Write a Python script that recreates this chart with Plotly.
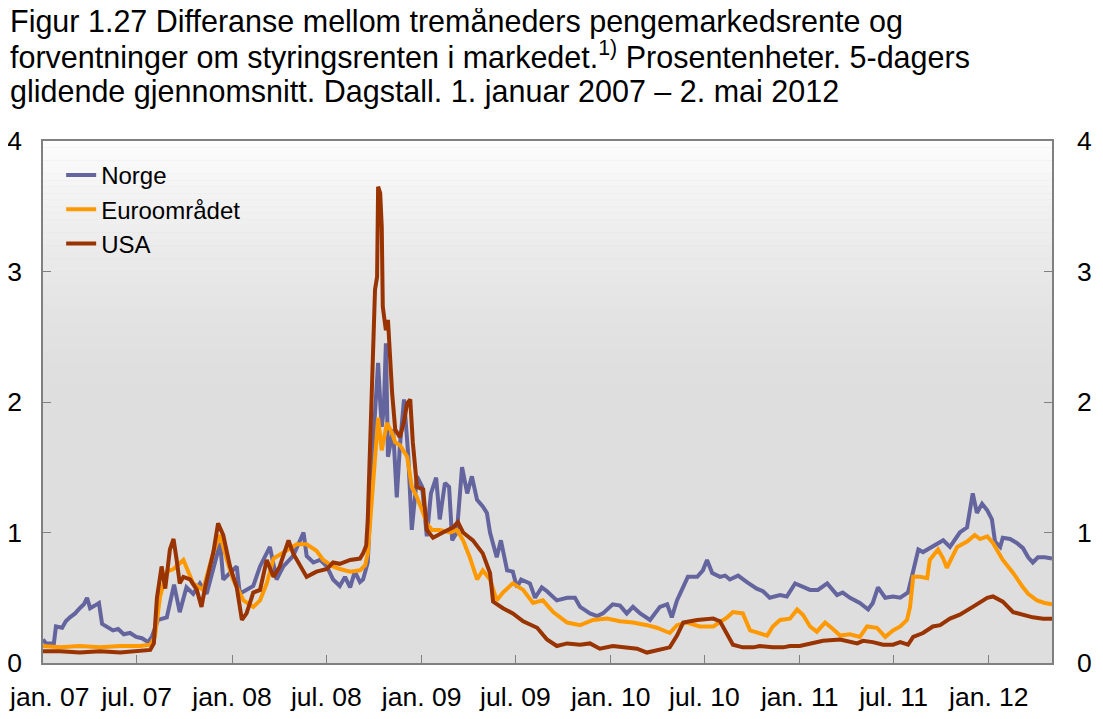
import pandas as pd
import plotly.graph_objects as go

START = pd.Timestamp("2007-01-01")

# Days since 1 Jan 2007 and values (percentage points)
norge_days = [0, 6, 21, 25, 37, 44, 52, 62, 71, 79, 85, 91, 100, 108, 114, 125, 135, 145, 156, 168,
              180, 191, 203, 210, 216, 222, 239, 245, 253, 264, 277, 290, 303, 316, 329, 342, 348, 361,
              374, 380, 393, 406, 419, 438, 451, 464, 483, 503, 509, 522, 535, 548, 560, 573, 583, 593,
              602, 612, 618, 627, 637, 643, 647, 651, 654, 658, 662, 666, 676, 683, 689, 697, 705, 712,
              722, 732, 741, 749, 759, 766, 776, 784, 790, 799, 809, 819, 828, 838, 849, 857, 863, 876,
              884, 896, 907, 915, 923, 940, 950, 963, 973, 992, 1012, 1027, 1037, 1056, 1070, 1081, 1100,
              1114, 1127, 1139, 1153, 1172, 1191, 1205, 1214, 1224, 1236, 1245, 1263, 1274, 1282, 1292,
              1307, 1317, 1326, 1342, 1359, 1378, 1390, 1403, 1423, 1436, 1452, 1467, 1481, 1496, 1514,
              1533, 1544, 1558, 1577, 1593, 1602, 1612, 1626, 1641, 1655, 1670, 1680, 1690, 1699, 1712,
              1726, 1738, 1751, 1770, 1784, 1795, 1803, 1813, 1823, 1832, 1838, 1848, 1853, 1867, 1880,
              1892, 1902, 1911, 1921, 1934, 1948]
norge_vals = [0.18, 0.15, 0.15, 0.28, 0.27, 0.32, 0.35, 0.38, 0.42, 0.45, 0.50, 0.42, 0.44, 0.46, 0.30,
              0.27, 0.25, 0.26, 0.22, 0.23, 0.20, 0.19, 0.16, 0.20, 0.26, 0.33, 0.35, 0.45, 0.60, 0.39,
              0.58, 0.53, 0.61, 0.53, 0.74, 0.92, 0.64, 0.69, 0.74, 0.53, 0.56, 0.59, 0.74, 0.89, 0.64,
              0.74, 0.82, 1.00, 0.82, 0.77, 0.79, 0.74, 0.64, 0.59, 0.66, 0.58, 0.70, 0.62, 0.64, 0.77,
              1.66, 2.10, 2.30, 2.00, 1.81, 1.95, 2.45, 1.58, 1.79, 1.27, 1.66, 2.02, 1.60, 1.02, 1.43,
              1.35, 0.97, 1.30, 1.42, 1.10, 1.38, 1.35, 0.94, 1.00, 1.50, 1.30, 1.43, 1.25, 1.20, 1.15,
              1.00, 0.81, 0.94, 0.71, 0.70, 0.58, 0.64, 0.61, 0.50, 0.58, 0.55, 0.48, 0.50, 0.50, 0.43,
              0.38, 0.36, 0.38, 0.45, 0.44, 0.38, 0.43, 0.38, 0.33, 0.43, 0.45, 0.35, 0.48, 0.58, 0.66,
              0.66, 0.71, 0.79, 0.69, 0.66, 0.67, 0.64, 0.67, 0.62, 0.57, 0.55, 0.50, 0.52, 0.51, 0.61,
              0.58, 0.56, 0.56, 0.61, 0.52, 0.54, 0.50, 0.46, 0.41, 0.46, 0.58, 0.50, 0.51, 0.50, 0.54,
              0.69, 0.87, 0.85, 0.88, 0.92, 0.94, 0.89, 1.00, 1.04, 1.30, 1.15, 1.22, 1.17, 1.10, 0.93,
              0.89, 0.96, 0.95, 0.92, 0.88, 0.81, 0.77, 0.81, 0.81, 0.80]

euro_days = [0, 33, 71, 110, 149, 187, 207, 216, 226, 239, 252, 271, 290, 309, 329, 342, 355, 367, 387,
             406, 419, 432, 445, 470, 490, 509, 528, 541, 560, 573, 593, 612, 622, 627, 635, 641, 647,
             654, 664, 674, 680, 689, 703, 712, 722, 732, 741, 751, 766, 786, 799, 811, 824, 838, 849,
             863, 876, 888, 907, 927, 946, 965, 985, 1012, 1037, 1062, 1089, 1114, 1139, 1166, 1185,
             1210, 1224, 1243, 1268, 1294, 1321, 1332, 1351, 1365, 1384, 1398, 1409, 1423, 1442, 1456,
             1467, 1481, 1494, 1510, 1525, 1539, 1558, 1577, 1591, 1610, 1626, 1641, 1655, 1668, 1674,
             1680, 1693, 1707, 1712, 1728, 1738, 1745, 1765, 1784, 1799, 1809, 1823, 1834, 1853, 1873,
             1892, 1902, 1919, 1934, 1948]
euro_vals = [0.13, 0.12, 0.13, 0.12, 0.13, 0.13, 0.14, 0.20, 0.51, 0.70, 0.72, 0.79, 0.61, 0.56, 0.85,
             0.98, 0.79, 0.64, 0.48, 0.43, 0.48, 0.61, 0.80, 0.86, 0.91, 0.91, 0.86, 0.79, 0.74, 0.72,
             0.70, 0.71, 0.75, 0.84, 1.27, 1.66, 1.88, 1.63, 1.84, 1.76, 1.69, 1.67, 1.58, 1.35, 1.27,
             1.17, 1.07, 1.02, 1.02, 1.00, 1.02, 0.94, 0.81, 0.64, 0.71, 0.64, 0.48, 0.54, 0.61, 0.56,
             0.46, 0.48, 0.39, 0.31, 0.29, 0.33, 0.34, 0.32, 0.31, 0.29, 0.27, 0.23, 0.29, 0.31, 0.28,
             0.28, 0.35, 0.39, 0.38, 0.25, 0.23, 0.21, 0.28, 0.33, 0.34, 0.41, 0.37, 0.28, 0.24, 0.31,
             0.26, 0.21, 0.22, 0.20, 0.28, 0.27, 0.20, 0.25, 0.28, 0.33, 0.43, 0.66, 0.66, 0.65, 0.79,
             0.87, 0.80, 0.73, 0.89, 0.93, 0.98, 0.95, 0.97, 0.92, 0.79, 0.69, 0.58, 0.53, 0.48, 0.46,
             0.45]

usa_days = [0, 33, 71, 110, 149, 187, 207, 214, 220, 229, 236, 245, 252, 258, 264, 271, 284, 297, 306,
            313, 329, 338, 348, 361, 374, 384, 393, 406, 419, 432, 445, 457, 474, 483, 503, 509, 528,
            548, 560, 573, 593, 612, 618, 624, 627, 631, 637, 641, 645, 647, 651, 654, 656, 662, 666,
            674, 680, 689, 697, 703, 709, 714, 722, 734, 741, 753, 772, 792, 801, 811, 830, 849, 863,
            869, 888, 907, 927, 954, 973, 992, 1012, 1037, 1056, 1075, 1100, 1127, 1147, 1166, 1191,
            1210, 1224, 1236, 1263, 1294, 1307, 1321, 1332, 1351, 1371, 1384, 1409, 1429, 1442, 1461,
            1481, 1506, 1539, 1572, 1583, 1602, 1622, 1641, 1655, 1670, 1680, 1699, 1718, 1732, 1751,
            1770, 1795, 1823, 1834, 1853, 1873, 1892, 1911, 1931, 1948]
usa_vals = [0.09, 0.09, 0.08, 0.09, 0.08, 0.09, 0.10, 0.15, 0.50, 0.74, 0.57, 0.87, 0.95, 0.79, 0.61,
            0.66, 0.64, 0.56, 0.43, 0.58, 0.85, 1.07, 0.98, 0.74, 0.58, 0.33, 0.38, 0.54, 0.56, 0.79,
            0.66, 0.74, 0.94, 0.84, 0.71, 0.66, 0.70, 0.72, 0.77, 0.76, 0.79, 0.80, 0.84, 0.90, 1.10,
            1.63, 2.45, 2.86, 2.96, 3.65, 3.60, 3.34, 2.73, 2.55, 2.63, 2.07, 1.79, 1.73, 1.85, 1.99,
            2.02, 1.69, 1.35, 1.33, 1.02, 0.96, 1.00, 1.04, 1.08, 1.00, 0.94, 0.84, 0.69, 0.47, 0.42,
            0.38, 0.32, 0.27, 0.18, 0.13, 0.15, 0.14, 0.15, 0.11, 0.13, 0.12, 0.11, 0.08, 0.10, 0.12,
            0.21, 0.31, 0.33, 0.34, 0.32, 0.21, 0.14, 0.12, 0.12, 0.13, 0.12, 0.12, 0.13, 0.13, 0.15,
            0.17, 0.18, 0.15, 0.17, 0.16, 0.14, 0.14, 0.16, 0.14, 0.20, 0.23, 0.28, 0.29, 0.34, 0.37,
            0.43, 0.50, 0.51, 0.47, 0.39, 0.37, 0.35, 0.34, 0.34]

series_names = ["Norge", "Euroområdet", "USA"]
series_colors = ["#64649e", "#ff9900", "#993300"]

tick_dates = ["2007-01-01", "2007-07-01", "2008-01-01", "2008-07-01", "2009-01-01", "2009-07-01",
              "2010-01-01", "2010-07-01", "2011-01-01", "2011-07-01", "2012-01-01"]
tick_labels = ["jan. 07", "jul. 07", "jan. 08", "jul. 08", "jan. 09", "jul. 09",
               "jan. 10", "jul. 10", "jan. 11", "jul. 11", "jan. 12"]
y_ticks = [0, 1, 2, 3, 4]

title_lines = ["Figur 1.27 Differanse mellom tremåneders pengemarkedsrente og",
               "forventninger om styringsrenten i markedet.<sup>1)</sup> Prosentenheter. 5-dagers",
               "glidende gjennomsnitt. Dagstall. 1. januar 2007 – 2. mai 2012"]


def to_dates(days):
    return [START + pd.Timedelta(days=d) for d in days]


FONT = "Liberation Sans, Arial, sans-serif"
PLOT_W, PLOT_H = 1009.0, 522.0
fig = go.Figure()
for name, color, days, vals in zip(series_names, series_colors,
                                   [norge_days, euro_days, usa_days],
                                   [norge_vals, euro_vals, usa_vals]):
    fig.add_trace(go.Scatter(x=to_dates(days), y=vals, mode="lines", name=name,
                             line=dict(color=color, width=4)))

# invisible trace to carry the right-hand axis
fig.add_trace(go.Scatter(x=to_dates(usa_days[:1]), y=[0], yaxis="y2", mode="lines",
                         line=dict(width=0), showlegend=False, hoverinfo="skip"))

# vertical gradient of the plot background
n = 40
top_c, bot_c = 253, 222
for i in range(n):
    y0 = 0.5 + 0.5 * i / n
    y1 = 0.5 + 0.5 * (i + 1) / n
    t = ((i + 0.5) / n) ** 1.6
    c = round(bot_c + (top_c - bot_c) * t)
    fig.add_shape(type="rect", xref="x domain", yref="y domain", x0=0, x1=1, y0=y0, y1=y1,
                  fillcolor=f"rgb({c},{c},{c})", line=dict(width=0), layer="below")

# title lines
for i, line in enumerate(title_lines):
    fig.add_annotation(text=line, xref="paper", yref="paper", x=-34.0 / PLOT_W,
                       y=1.0 + (133 - 13 - 35 * i) / PLOT_H, xanchor="left", yanchor="middle",
                       showarrow=False, borderpad=0,
                       font=dict(family=FONT, size=30.5, color="black"))

# first x tick label placed at the left edge of the page so that it is not clipped
shown_ticktext = [""] + tick_labels[1:]
fig.add_annotation(text=tick_labels[0], xref="paper", yref="paper", x=-35.0 / PLOT_W, y=0,
                   xanchor="left", yanchor="top", yshift=-18, showarrow=False, borderpad=0,
                   font=dict(family=FONT, size=26.5, color="black"))

end_date = START + pd.Timedelta(days=1948)
axis_common = dict(ticks="inside", ticklen=8, tickcolor="#808080", showgrid=False, zeroline=False,
                   showline=True, linecolor="#808080", linewidth=1.5, automargin=False,
                   ticklabeloverflow="allow")
fig.update_layout(
    width=1087, height=703,
    margin=dict(l=35, r=43, t=133, b=48),
    paper_bgcolor="white",
    plot_bgcolor="rgb(222,222,222)",
    font=dict(family=FONT, size=26.5, color="black"),
    showlegend=True,
    legend=dict(x=0.018, y=0.977, xanchor="left", yanchor="top", bgcolor="rgba(0,0,0,0)",
                font=dict(family=FONT, size=24), tracegroupgap=0, itemwidth=30),
    xaxis=dict(type="date", range=[START, end_date], tickvals=tick_dates, ticktext=shown_ticktext,
               mirror=True, tickfont=dict(size=26.5), ticklabelstandoff=9, **axis_common),
    yaxis=dict(range=[0, 4], tickvals=y_ticks, tickfont=dict(size=26.5), ticklabelstandoff=14,
               **axis_common),
    yaxis2=dict(range=[0, 4], tickvals=y_ticks, overlaying="y", side="right",
                tickfont=dict(size=26.5), ticklabelstandoff=18, **axis_common),
)

fig.write_html("out.html")
